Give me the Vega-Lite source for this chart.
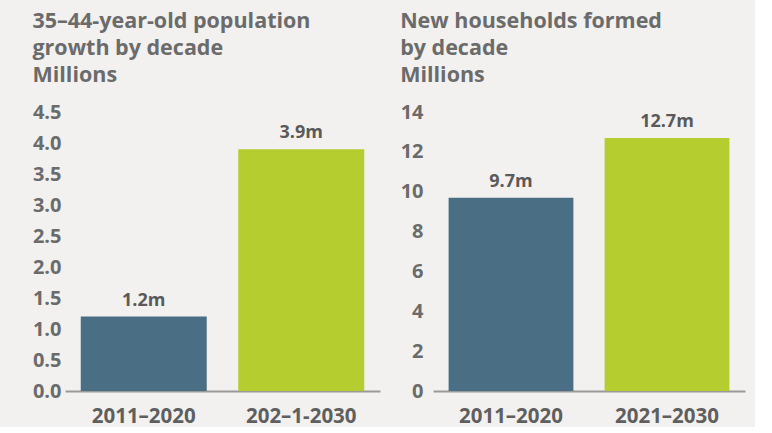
{
  "$schema": "https://vega.github.io/schema/vega-lite/v6.json",
  "background": "#f2f1ef",
  "padding": {"left": 32, "top": 10, "right": 10, "bottom": 0},
  "config": {
    "view": {"stroke": null},
    "font": "Open Sans",
    "title": {"font": "Open Sans", "fontSize": 21.5, "fontWeight": "bold", "color": "#6b6b6b", "anchor": "start", "frame": "bounds", "lineHeight": 27, "offset": 16},
    "axis": {"labelFont": "Open Sans", "labelFontWeight": "bold", "labelColor": "#6b6b6b", "grid": false, "ticks": false, "title": null},
    "concat": {"spacing": 20}
  },
  "datasets": {
    "pop": [
      {"decade": "2011–2020", "value": 1.2, "label": "1.2m"},
      {"decade": "202–1-2030", "value": 3.9, "label": "3.9m"}
    ],
    "hh": [
      {"decade": "2011–2020", "value": 9.7, "label": "9.7m"},
      {"decade": "2021–2030", "value": 12.7, "label": "12.7m"}
    ]
  },
  "hconcat": [
    {
      "title": {"text": ["35–44-year-old population", "growth by decade", "Millions"]},
      "width": 315,
      "height": 279,
      "data": {"name": "pop"},
      "encoding": {
        "x": {"field": "decade", "type": "nominal", "sort": null,
          "scale": {"paddingInner": 0.2, "paddingOuter": 0.1},
          "axis": {"labelAngle": 0, "labelFontSize": 20.5, "labelPadding": 15, "domainColor": "#9a9a9a", "domainWidth": 2, "labelColor": "#5f5f5f"}},
        "y": {"field": "value", "type": "quantitative",
          "scale": {"domain": [0, 4.5], "nice": false},
          "axis": {"values": [0, 0.5, 1, 1.5, 2, 2.5, 3, 3.5, 4, 4.5], "format": ".1f", "domain": false, "labelFontSize": 20, "labelPadding": 4}}
      },
      "layer": [
        {"mark": {"type": "bar"},
          "encoding": {"color": {"field": "decade", "type": "nominal", "sort": null, "scale": {"range": ["#4a6f84", "#b6cd2f"]}, "legend": null}}},
        {"mark": {"type": "text", "baseline": "bottom", "dy": -7, "fontSize": 18, "fontWeight": "bold", "color": "#5a5a5a"},
          "encoding": {"text": {"field": "label"}}}
      ]
    },
    {
      "title": {"text": ["New households formed", "by decade", "Millions"]},
      "width": 312,
      "height": 279,
      "data": {"name": "hh"},
      "encoding": {
        "x": {"field": "decade", "type": "nominal", "sort": null,
          "scale": {"paddingInner": 0.2, "paddingOuter": 0.1},
          "axis": {"labelAngle": 0, "labelFontSize": 20.5, "labelPadding": 15, "domainColor": "#9a9a9a", "domainWidth": 2, "labelColor": "#5f5f5f"}},
        "y": {"field": "value", "type": "quantitative",
          "scale": {"domain": [0, 14], "nice": false},
          "axis": {"values": [0, 2, 4, 6, 8, 10, 12, 14], "format": "d", "domain": false, "labelFontSize": 20, "labelPadding": 10}}
      },
      "layer": [
        {"mark": {"type": "bar"},
          "encoding": {"color": {"field": "decade", "type": "nominal", "sort": null, "scale": {"range": ["#4a6f84", "#b6cd2f"]}, "legend": null}}},
        {"mark": {"type": "text", "baseline": "bottom", "dy": -7, "fontSize": 18, "fontWeight": "bold", "color": "#5a5a5a"},
          "encoding": {"text": {"field": "label"}}}
      ]
    }
  ],
  "resolve": {"scale": {"color": "independent"}}
}
